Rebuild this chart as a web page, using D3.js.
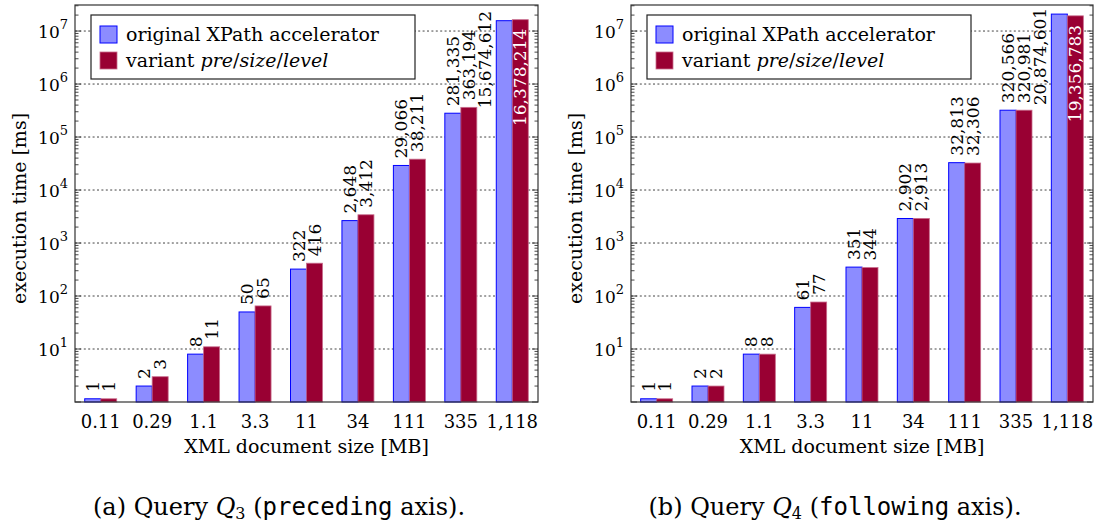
<!DOCTYPE html>
<html>
<head>
<meta charset="utf-8">
<script src="https://cdn.jsdelivr.net/npm/d3@7"></script>
<style>
  html, body { margin: 0; padding: 0; background: #fff; }
  svg { display: block; }
</style>
</head>
<body>
<svg id="chart" width="1096" height="527"></svg>
<script>
// ---------- data ----------
const categories = ["0.11", "0.29", "1.1", "3.3", "11", "34", "111", "335", "1,118"];
const seriesNames = ["original XPath accelerator", "variant pre/size/level"];
// Query Q3 (preceding axis)
const q3Original = [1.15, 2, 8, 50, 322, 2648, 29066, 281335, 15674612];
const q3Variant  = [1.15, 3, 11, 65, 416, 3412, 38211, 363194, 16378214];
// Query Q4 (following axis)
const q4Original = [1.15, 2, 8, 61, 351, 2902, 32813, 320566, 20874601];
const q4Variant  = [1.15, 2, 8, 77, 344, 2913, 32306, 320981, 19356783];
const yDomain = [1, 3.1e7];
const yMajorTicks = [1e1, 1e2, 1e3, 1e4, 1e5, 1e6, 1e7];
const xTitle = "XML document size [MB]";
const yTitle = "execution time [ms]";

// ---------- style ----------
const blueFill = "#8c8cff", blueStroke = "#0000ff";
const redFill = "#990033", redStroke = "#c86b8c";
const FS = 19;       // titles, legend
const FS_TICK = 18;  // x tick labels
const FS_Y = 17;     // y tick labels
const FS_LAB = 17;   // value labels
const FS_CAP = 24;   // captions
const barW = 16;
const fmt = d3.format(",.0f");
const SERIF = "DejaVu Serif";
const MONO = "DejaVu Sans Mono";

const svg = d3.select("#chart");

function T(sel) { return sel.attr("font-family", SERIF).attr("fill", "#000"); }

function drawChart(opts) {
  const { x0, x1, y0, y1, orig, vari, caption } = opts;
  const g = svg.append("g");
  const x = d3.scaleBand().domain(categories).range([x0, x1]).padding(0);
  const cx = c => x(c) + x.bandwidth() / 2;
  const y = d3.scaleLog().domain(yDomain).range([y1, y0]);

  // grid
  g.append("g").selectAll("line").data(yMajorTicks).join("line")
    .attr("x1", x0).attr("x2", x1)
    .attr("y1", d => y(d)).attr("y2", d => y(d))
    .attr("stroke", "#444").attr("stroke-width", 1)
    .attr("stroke-dasharray", "2,2.4");

  // ticks (left & right, inward)
  const allTicks = y.ticks().filter(t => t >= yDomain[0] && t <= yDomain[1]);
  const isMajor = t => Math.abs(Math.log10(t) - Math.round(Math.log10(t))) < 1e-9;
  const tg = g.append("g");
  allTicks.forEach(t => {
    const L = isMajor(t) ? 6 : 3.5;
    tg.append("line").attr("x1", x0).attr("x2", x0 + L)
      .attr("y1", y(t)).attr("y2", y(t)).attr("stroke", "#333").attr("stroke-width", 0.9);
    tg.append("line").attr("x1", x1).attr("x2", x1 - L)
      .attr("y1", y(t)).attr("y2", y(t)).attr("stroke", "#333").attr("stroke-width", 0.9);
  });

  // y tick labels 10^k
  const yl = T(g.append("g").selectAll("text").data(yMajorTicks).join("text"))
    .attr("x", x0 - 7).attr("y", d => y(d) + 7)
    .attr("text-anchor", "end").attr("font-size", FS_Y);
  yl.append("tspan").text("10");
  yl.append("tspan").attr("font-size", 13).attr("dy", -9)
    .text(d => Math.round(Math.log10(d)));

  // bars
  const bars = g.append("g");
  bars.selectAll("rect.o").data(categories).join("rect").attr("class", "o")
    .attr("x", c => cx(c) - barW).attr("width", barW)
    .attr("y", (c, i) => y(orig[i])).attr("height", (c, i) => y1 - y(orig[i]))
    .attr("fill", blueFill).attr("stroke", blueStroke).attr("stroke-width", 1);
  bars.selectAll("rect.v").data(categories).join("rect").attr("class", "v")
    .attr("x", c => cx(c)).attr("width", barW)
    .attr("y", (c, i) => y(vari[i])).attr("height", (c, i) => y1 - y(vari[i]))
    .attr("fill", redFill).attr("stroke", redStroke).attr("stroke-width", 0.8);

  // value labels
  const lab = g.append("g");
  const n = categories.length;
  categories.forEach((c, i) => {
    let lx = cx(c) - barW / 2, ly = y(orig[i]) - 7;
    if (i === n - 1) {
      lx = cx(categories[i - 1]) + barW * 1.5;
      ly = y(orig[i - 1]) - 5;
    }
    T(lab.append("text")).attr("transform", `translate(${lx},${ly}) rotate(-90)`)
      .attr("text-anchor", "start").attr("dominant-baseline", "central")
      .attr("font-size", FS_LAB).text(fmt(orig[i]));
    if (i === n - 1) {
      T(lab.append("text")).attr("transform", `translate(${cx(c) + barW / 2},${y(vari[i]) + 9}) rotate(-90)`)
        .attr("text-anchor", "end").attr("dominant-baseline", "central")
        .attr("font-size", FS_LAB).attr("fill", "#fff").text(fmt(vari[i]));
    } else {
      T(lab.append("text")).attr("transform", `translate(${cx(c) + barW / 2},${y(vari[i]) - 7}) rotate(-90)`)
        .attr("text-anchor", "start").attr("dominant-baseline", "central")
        .attr("font-size", FS_LAB).text(fmt(vari[i]));
    }
  });

  // frame
  g.append("rect").attr("x", x0).attr("y", y0).attr("width", x1 - x0).attr("height", y1 - y0)
    .attr("fill", "none").attr("stroke", "#333").attr("stroke-width", 1.2);

  // x tick labels
  const xa = g.append("g").attr("transform", `translate(0,${y1})`)
    .call(d3.axisBottom(x).tickSize(0).tickPadding(0));
  xa.select(".domain").remove();
  xa.attr("font-family", SERIF).attr("font-size", FS_TICK);
  xa.selectAll("text").attr("dy", null).attr("y", 26).attr("fill", "#000");

  // axis titles
  T(g.append("text")).attr("x", (x0 + x1) / 2).attr("y", 453)
    .attr("text-anchor", "middle").attr("font-size", FS).text(xTitle);
  T(g.append("text")).attr("transform", `translate(${x0 - 56},${(y0 + y1) / 2 + 5}) rotate(-90)`)
    .attr("text-anchor", "middle").attr("dominant-baseline", "central")
    .attr("font-size", FS).text(yTitle);

  // legend
  const lg = g.append("g").attr("transform", `translate(${x0 + 16},15)`);
  lg.append("rect").attr("width", 324).attr("height", 64)
    .attr("fill", "#fff").attr("stroke", "#222").attr("stroke-width", 1.2);
  lg.append("rect").attr("x", 9).attr("y", 11).attr("width", 17).attr("height", 17)
    .attr("fill", blueFill).attr("stroke", blueStroke).attr("stroke-width", 1);
  lg.append("rect").attr("x", 9).attr("y", 37).attr("width", 17).attr("height", 17)
    .attr("fill", redFill).attr("stroke", redStroke).attr("stroke-width", 0.8);
  T(lg.append("text")).attr("x", 35).attr("y", 26).attr("font-size", FS).text(seriesNames[0]);
  const t2 = T(lg.append("text")).attr("x", 35).attr("y", 52).attr("font-size", FS);
  t2.append("tspan").text("variant ");
  const parts = seriesNames[1].replace("variant ", "").split("/");
  parts.forEach((p, k) => {
    t2.append("tspan").attr("font-style", "italic").text(p);
    if (k < parts.length - 1) t2.append("tspan").text("/");
  });

  // caption
  const cap = T(svg.append("text")).attr("x", caption.cx).attr("y", 515)
    .attr("text-anchor", "middle").attr("font-size", FS_CAP);
  cap.append("tspan").text(caption.pre + " Query ");
  cap.append("tspan").attr("font-style", "italic").text("Q");
  cap.append("tspan").attr("font-size", 16).attr("dy", 4).text(caption.sub);
  cap.append("tspan").attr("dy", -4).text(" (");
  cap.append("tspan").attr("font-family", MONO).text(caption.axis);
  cap.append("tspan").text(" axis).");
}

drawChart({ x0: 75, x1: 538, y0: 5, y1: 402, orig: q3Original, vari: q3Variant,
  caption: { cx: 279, pre: "(a)", sub: "3", axis: "preceding" } });
drawChart({ x0: 631, x1: 1093, y0: 5, y1: 402, orig: q4Original, vari: q4Variant,
  caption: { cx: 835, pre: "(b)", sub: "4", axis: "following" } });
</script>
</body>
</html>
